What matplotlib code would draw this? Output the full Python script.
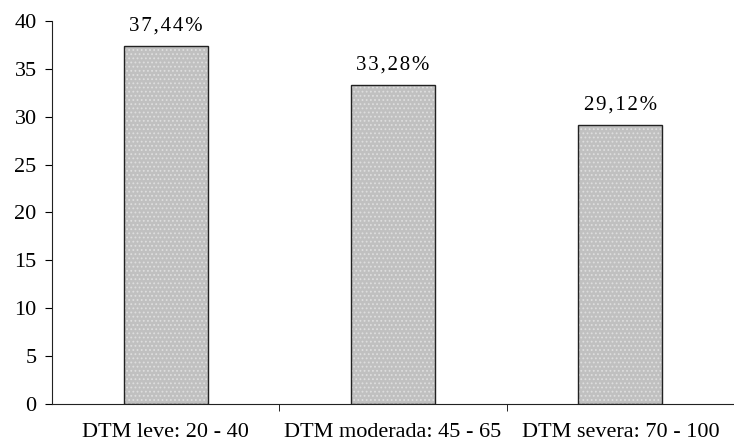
import matplotlib
matplotlib.use("Agg")
import matplotlib.pyplot as plt

categories = ["DTM leve: 20 - 40", "DTM moderada: 45 - 65", "DTM severa: 70 - 100"]
values = [37.44, 33.28, 29.12]
labels = ["37,44%", "33,28%", "29,12%"]
yticks = [0, 5, 10, 15, 20, 25, 30, 35, 40]

plt.rcParams["font.family"] = ["Liberation Serif", "DejaVu Serif"]
plt.rcParams["hatch.linewidth"] = 0.8

fig = plt.figure(figsize=(7.34, 4.46), dpi=100)
ax = fig.add_axes([52 / 734, 42 / 446, 682 / 734, 383 / 446])

x = list(range(len(categories)))
# dotted gray fill
ax.bar(x, values, width=0.37, color="#c0c0c0", edgecolor="#dedede",
       hatch="....", linewidth=0, zorder=2)
# black outline
ax.bar(x, values, width=0.37, facecolor="none", edgecolor="#222222",
       linewidth=1.0, zorder=3)

for xi, v, lab in zip(x, values, labels):
    spaced = "\u200a".join(lab)
    ax.text(xi, v + 1.6, spaced, ha="center", va="baseline", fontsize=15)

ax.set_xlim(-0.5, 2.5)
ax.set_ylim(0, 40)
ax.set_yticks(yticks)
ax.set_yticklabels([str(t) for t in yticks], fontsize=16)
ax.set_xticks(x)
ax.set_xticklabels(categories, fontsize=16)
ax.tick_params(axis="x", length=0, pad=14)
ax.set_xticks([0.5, 1.5], minor=True)
ax.tick_params(axis="x", which="minor", length=5, direction="out")
ax.tick_params(axis="y", length=5, direction="out", pad=6)

for s in ["top", "right"]:
    ax.spines[s].set_visible(False)
ax.spines["left"].set_color("#222222")
ax.spines["bottom"].set_color("#222222")

fig.savefig("out.png", dpi=100)
